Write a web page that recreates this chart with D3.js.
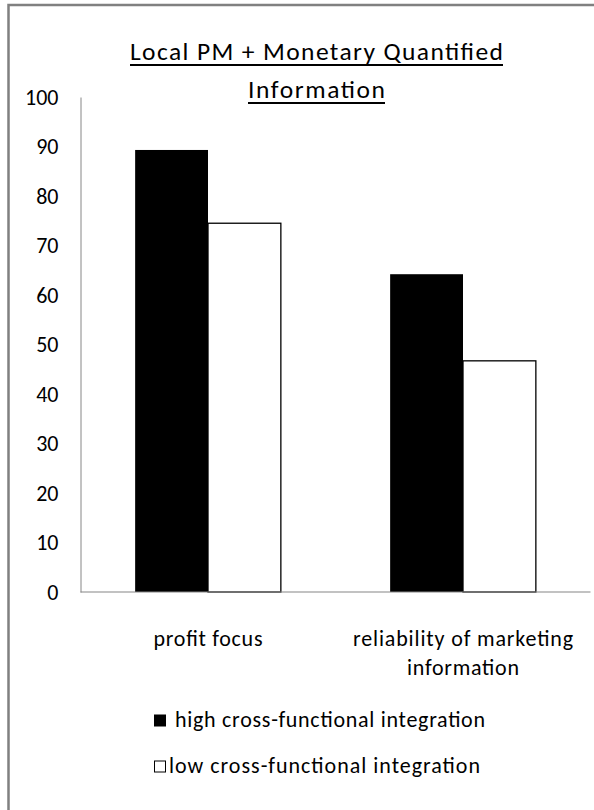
<!DOCTYPE html>
<html>
<head>
<meta charset="utf-8">
<script src="https://cdn.jsdelivr.net/npm/d3@7/dist/d3.min.js"></script>
<style>
  html, body { margin: 0; padding: 0; background: #ffffff; }
  svg { display: block; }
  text { font-family: Carlito, Calibri, Lato, "Liberation Sans", sans-serif; fill: #000; }
</style>
</head>
<body>
<svg id="chart" width="594" height="810"></svg>
<script>
// Chart data
const categories = ["profit focus", "reliability of marketing information"];
const categoryLines = [["profit focus"], ["reliability of marketing", "information"]];
const seriesNames = ["high cross-functional integration", "low cross-functional integration"];
const highValues = [89.3, 64.2];
const lowValues = [74.5, 46.7];
const yTicks = [0, 10, 20, 30, 40, 50, 60, 70, 80, 90, 100];
const titleLines = ["Local PM + Monetary Quantified", "Information"];

const svg = d3.select("#chart");

// Fit a text run to a given width by adjusting letter spacing
function spread(sel, width) {
  sel.attr("textLength", width).attr("lengthAdjust", "spacing");
  return sel;
}

// Outer frame
svg.append("rect")
  .attr("x", 8.5).attr("y", 5)
  .attr("width", 620).attr("height", 840)
  .attr("fill", "none")
  .attr("stroke", "#808080")
  .attr("stroke-width", 2.5);

// Scales
const plot = { left: 80.5, right: 590.5, top: 97, bottom: 592 };
const y = d3.scaleLinear().domain([0, 100]).range([plot.bottom, plot.top]);
const x0 = d3.scaleBand().domain(categories).range([plot.left, plot.right]).padding(0);
const x1 = d3.scaleBand().domain(seriesNames).range([0, x0.bandwidth()])
  .paddingInner(0).paddingOuter(0.75);

const rows = categories.map((c, i) => ({
  category: c,
  values: [
    { series: seriesNames[0], value: highValues[i] },
    { series: seriesNames[1], value: lowValues[i] }
  ]
}));

// Title (underlined, two lines)
const titleCx = 316.5;
const titleBaselines = [60, 98];
const titleWidths = [373, 137];
titleLines.forEach((line, i) => {
  const t = svg.append("text")
    .attr("x", titleCx).attr("y", titleBaselines[i])
    .attr("text-anchor", "middle")
    .attr("font-size", 25.5)
    .text(line);
  spread(t, titleWidths[i]);
  const w = titleWidths[i];
  svg.append("line")
    .attr("x1", titleCx - w / 2).attr("x2", titleCx + w / 2)
    .attr("y1", titleBaselines[i] + 5).attr("y2", titleBaselines[i] + 5)
    .attr("stroke", "#000").attr("stroke-width", 2);
});

// Y axis
const yAxis = d3.axisLeft(y).tickValues(yTicks).tickSize(0).tickPadding(22);
const gy = svg.append("g").attr("transform", `translate(${plot.left},0)`).call(yAxis);
gy.select(".domain").attr("stroke", "#868686").attr("stroke-width", 1);
gy.selectAll(".tick text")
  .attr("font-size", 22)
  .attr("font-family", "Carlito, Calibri, Lato, 'Liberation Sans', sans-serif")
  .attr("fill", "#000");

// Bars
const groups = svg.append("g").selectAll("g")
  .data(rows).join("g")
  .attr("transform", d => `translate(${x0(d.category)},0)`);

groups.selectAll("rect")
  .data(d => d.values).join("rect")
  .attr("x", d => x1(d.series))
  .attr("y", d => y(d.value))
  .attr("width", x1.bandwidth())
  .attr("height", d => y(0) - y(d.value))
  .attr("fill", d => d.series === seriesNames[0] ? "#000" : "#fff")
  .attr("stroke", d => d.series === seriesNames[0] ? "none" : "#000")
  .attr("stroke-width", 1.3);

// X axis line
svg.append("line")
  .attr("x1", plot.left).attr("x2", plot.right)
  .attr("y1", plot.bottom).attr("y2", plot.bottom)
  .attr("stroke", "#868686").attr("stroke-width", 1.2);

// Category labels
const categoryLineWidths = [[109], [220, 112]];
categories.forEach((c, i) => {
  const cx = x0(c) + x0.bandwidth() / 2;
  categoryLines[i].forEach((line, j) => {
    const t = svg.append("text")
      .attr("x", cx).attr("y", 646 + j * 29)
      .attr("text-anchor", "middle")
      .attr("font-size", 22)
      .text(line);
    spread(t, categoryLineWidths[i][j]);
  });
});

// Legend
const legendItems = [
  { name: seriesNames[0], fill: "#000", stroke: "#000", y: 727, textX: 175, width: 310 },
  { name: seriesNames[1], fill: "#fff", stroke: "#000", y: 773, textX: 169, width: 311 }
];
legendItems.forEach(it => {
  svg.append("rect")
    .attr("x", 154.5).attr("y", it.y - 12)
    .attr("width", 11).attr("height", 11)
    .attr("fill", it.fill).attr("stroke", it.stroke).attr("stroke-width", 1);
  const t = svg.append("text")
    .attr("x", it.textX).attr("y", it.y)
    .attr("font-size", 22)
    .text(it.name);
  spread(t, it.width);
});
</script>
</body>
</html>
